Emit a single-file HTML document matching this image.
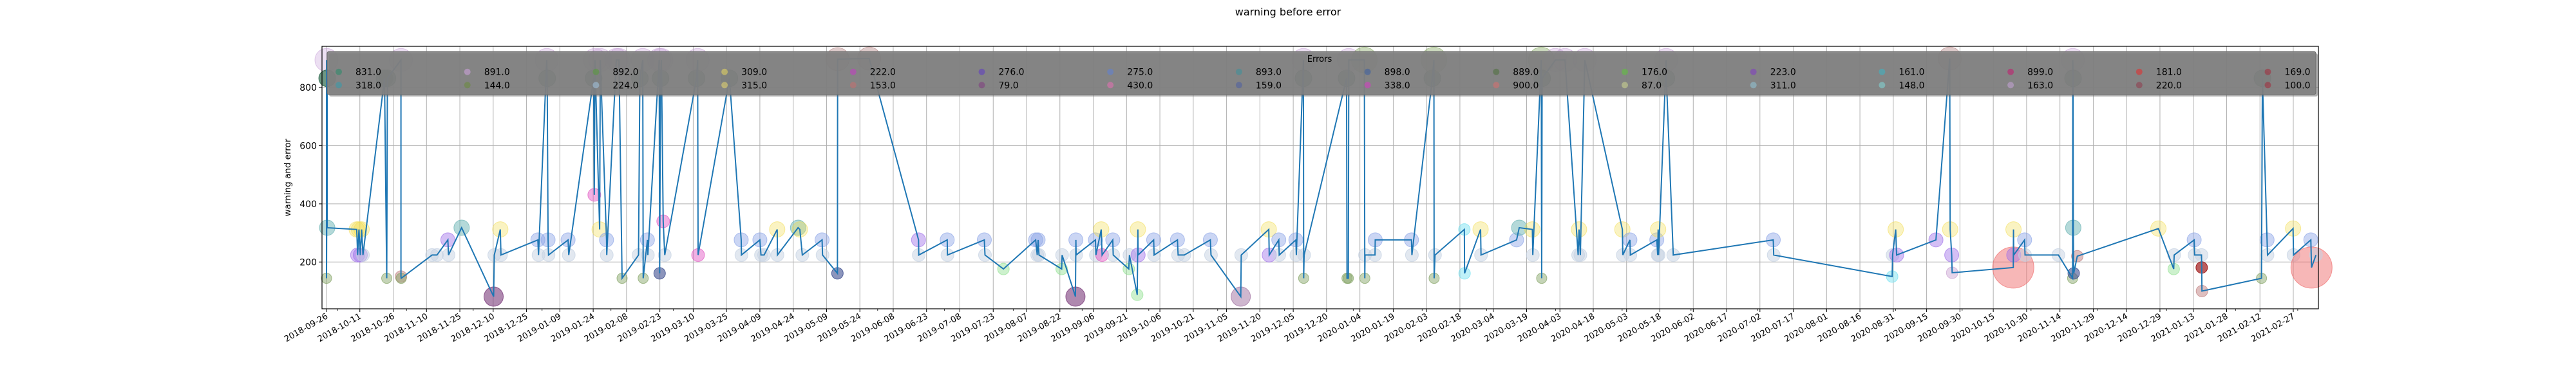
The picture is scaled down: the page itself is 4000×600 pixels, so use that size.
<!DOCTYPE html>
<html><head><meta charset="utf-8"><style>
html,body{margin:0;padding:0;background:#fff;}
svg{display:block;font-family:"DejaVu Sans","Liberation Sans",sans-serif;}
</style></head><body>
<svg id="chart" width="4000" height="600" viewBox="0 0 4000 600" xmlns="http://www.w3.org/2000/svg">
<text x="2000" y="24" font-size="16" text-anchor="middle">warning before error</text>
<text x="0" y="0" font-size="13.5" text-anchor="middle" transform="translate(451,276) rotate(-90)">warning and error</text>
<g id="grid"></g><g id="marks"></g><g id="lineg"></g><g id="legend"></g><g id="axes"></g>
</svg>
<script>
// ---- data ----
const days = [0,0,0.3,0.3,13.6,14,14.6,15.2,15.8,16.4,26.1,27.1,27.4,33.5,33.5,33.6,47.5,49.7,54.6,54.9,60.8,75.2,75.5,78.2,78.5,95.1,95.4,99.1,99.3,99.7,99.9,108.7,109,120.2,120.5,120.8,122.9,123.2,126,126.1,130.4,131.6,133,140.4,141,142.3,142.5,144.4,144.6,149.7,149.9,150.3,150.7,151.5,152.2,166.5,167,167.2,181.3,186.6,186.7,195,195.5,196.9,202.8,202.9,212.2,213,214.1,223,223.2,
229.9,230,244.2,266.4,266.5,279.3,279.4,296,296.3,304.6,319.1,319.8,320.2,320.6,330.8,331,337,337.2,337.3,346,346.2,348.6,349,353.8,354,361,361.3,364.8,365.1,365.2,372.2,372.4,382.9,383.2,386,397.7,398,411.4,411.6,424,424.2,428.5,428.7,436.2,436.4,439.6,439.6,439.7,439.9,
459,459.2,459.8,460,467,467.2,467.3,471.8,471.9,488.2,488.4,497.6,498.3,498.4,498.8,512,512.1,519.3,519.5,535.5,536.7,542.6,542.8,546.6,546.8,547,553,557.3,563.2,563.6,564.2,566.2,583.1,583.3,586.5,586.7,598.6,599,599.2,599.4,602.8,602.9,606,651,651.2,
704.5,704.7,706.1,706.5,724.2,730.4,730.6,731.3,731.5,759,759.1,759.2,764.1,764.3,779.3,785.7,785.8,785.9,786,786.2,787.8,824.3,831.2,831.4,840.4,840.6,843.7,843.8,843.9,870.7,871.1,873.2,873.4,884.9,885.1,892.9,893.2,895.2];
const values = [895,144,832,318,312,224,312,224,312,224,832,144,832,895,150,144,224,224,276,224,318,81,224,312,224,276,224,895,832,276,224,276,224,832,431,895,312,895,276,224,895,895,144,224,832,895,144,276,224,895,161,832,895,340,224,832,895,224,832,276,224,276,224,224,312,224,318,312,224,276,224,
161,898,900,276,224,276,224,276,224,176,276,224,276,224,176,224,81,276,224,276,224,312,224,276,224,176,224,87,312,224,276,224,276,224,224,276,224,81,224,312,224,276,224,276,224,895,832,144,224,
832,144,144,895,895,144,224,224,276,276,224,832,895,144,224,312,161,312,224,276,318,312,224,895,144,832,895,895,224,312,224,895,312,224,276,224,276,224,312,224,895,832,224,276,224,
150,224,312,224,276,900,312,224,163,181,312,224,276,224,224,144,895,832,318,161,220,315,176,224,276,224,224,181,100,144,832,276,224,315,224,276,181,224];
const kinds = "AFBHCKCKCEBFBATFEEKEHGECEDEABDEDEBJACADEAAFEBAFDEAIBAJEBAJBDEDEECEHCEDE"+
"IQQKEDEDELDEDELEGDEDECJDELELCKDEDEEDEOECKDEDEABFE"+
"BFFARFEEDDEBRFEPPCEDHCERFBAAECEACEDEDECEABEDE"+
"PECKKQCKSMCKDEEFABHITCLEDEENTFBDECEDME";
const legendLabels = ["831.0","318.0","891.0","144.0","892.0","224.0","309.0","315.0","222.0","153.0","276.0","79.0","275.0","430.0","893.0","159.0","898.0","338.0","889.0","900.0","176.0","87.0","223.0","311.0","161.0","148.0","899.0","163.0","181.0","220.0","169.0","100.0"];
const legendColors = ["#2e8b6a","#3a9aa8","#c9a0d8","#6a8a40","#5a9a40","#a0c0d8","#e0d060","#e0d070","#c040c0","#c07070","#6040c0","#804080","#6080d0","#e070b0","#40909a","#5060a0","#4060a0","#d040c0","#507040","#d07070","#60c040","#c8d090","#8040c0","#90c0d0","#40b0c0","#80d0d0","#c02070","#c0a0d0","#e03030","#904050","#a03040","#a03040"];
const yTicks = [200,400,600,800];
// ---- style ----
const kindStyle = {A:["#c9a3d9",.35,18],B:["#2f6b4f",.7,13],C:["#f2dc50",.35,12],D:["#8ca4e6",.45,11],E:["#c5d2e2",.5,10],F:["#7f9f60",.45,8],G:["#7a3a7a",.6,15],H:["#6ab4b4",.5,12],I:["#3f4f8f",.6,9],J:["#e050c0",.45,10],K:["#a070e8",.45,11],L:["#90e090",.45,9],M:["#f07070",.5,32],N:["#a01818",.7,9],O:["#a070a0",.5,15],P:["#70e0f0",.45,9],Q:["#b08080",.4,18],R:["#90b070",.45,20],S:["#c8a0d0",.45,9],T:["#c08080",.5,9]};
const NS="http://www.w3.org/2000/svg";
const L=500,R=3600,T=72,B=480;
const D0=-2.03,D1=896.3,V0=39,V1=942;
const xs=d=>L+(d-D0)/(D1-D0)*(R-L);
const ys=v=>B-(v-V0)/(V1-V0)*(B-T);
function mk(tag,attrs,parent,txt){const e=document.createElementNS(NS,tag);for(const k in attrs)e.setAttribute(k,attrs[k]);if(txt!==undefined)e.textContent=txt;parent.appendChild(e);return e;}
const grid=document.getElementById('grid'),marks=document.getElementById('marks'),lineg=document.getElementById('lineg'),leg=document.getElementById('legend'),axes=document.getElementById('axes');
const start=Date.UTC(2018,8,26);
function fmt(d){const t=new Date(start+d*86400000);return t.getUTCFullYear()+"-"+String(t.getUTCMonth()+1).padStart(2,"0")+"-"+String(t.getUTCDate()).padStart(2,"0");}
// x ticks every 15 days
for(let d=0;d<=D1;d+=15){const x=xs(d);
 const g=mk('line',{x1:x,x2:x,y1:T,y2:B,stroke:'#b0b0b0','stroke-width':1},grid);
 
 mk('line',{x1:x,x2:x,y1:B,y2:B+5,stroke:'#000','stroke-width':1},axes);
 const t=mk('text',{x:0,y:0,'font-size':13,'text-anchor':'end',transform:`translate(${x+3},${B+14}) rotate(-30)`},axes,fmt(d));
 
}
// minor ticks at month starts
for(let m=0;m<32;m++){const dt=Date.UTC(2018,9+m,1);const d=(dt-start)/86400000;if(d>D1)break;const x=xs(d);mk('line',{x1:x,x2:x,y1:B,y2:B+3,stroke:'#000','stroke-width':0.8},axes);}
yTicks.forEach(v=>{const y=ys(v);
 const g=mk('line',{x1:L,x2:R,y1:y,y2:y,stroke:'#b0b0b0','stroke-width':1},grid);
 
 mk('line',{x1:L-5,x2:L,y1:y,y2:y,stroke:'#000','stroke-width':1},axes);
 const t=mk('text',{x:L-8,y:y+5,'font-size':14,'text-anchor':'end'},axes,String(v));
 
});
// bubbles
for(let i=0;i<days.length;i++){const s=kindStyle[kinds[i]]||kindStyle.E;
 const c=mk('circle',{cx:xs(days[i]),cy:ys(values[i]),r:s[2],fill:s[0],'fill-opacity':s[1],stroke:s[0],'stroke-opacity':Math.min(1,s[1]+0.2),'stroke-width':1},marks);
 
}
// line
const pl=mk('polyline',{points:days.map((d,i)=>xs(d)+","+ys(values[i])).join(" "),fill:'none',stroke:'#1f77b4','stroke-width':2,'stroke-linejoin':'miter'},lineg);

// legend
mk('rect',{x:511,y:83,width:3088,height:67,rx:3,fill:'#606060','fill-opacity':0.5},leg);
const lb=mk('rect',{x:508,y:80,width:3088,height:67,rx:3,fill:'#808080','fill-opacity':0.92,stroke:'#6e6e6e'},leg);

const lt=mk('text',{x:2049,y:96,'font-size':13,'text-anchor':'middle'},leg,'Errors');

legendLabels.forEach((lab,i)=>{const col=Math.floor(i/2),row=i%2;const x=526+col*199.7,y=row?132.3:111.7;
 const g=mk('g',{},leg);
 
 mk('circle',{cx:x,cy:y,r:5,fill:legendColors[i],'fill-opacity':0.6},g);
 mk('text',{x:x+26,y:y+5,'font-size':14},g,lab);
});
// frame
const fr=mk('rect',{x:L,y:T,width:R-L,height:B-T,fill:'none',stroke:'#000','stroke-width':1.2},axes);

</script>
</body></html>
